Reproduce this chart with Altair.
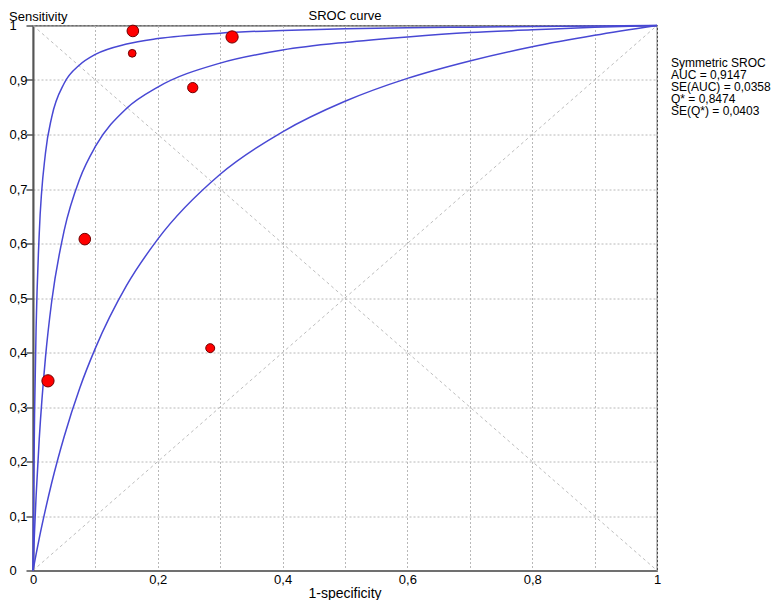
import altair as alt
import pandas as pd

# ---- data ----
fpr = [0, 0.001, 0.0025, 0.005, 0.01, 0.02, 0.03, 0.05, 0.075, 0.1,
       0.15, 0.2, 0.3, 0.4, 0.5, 0.6, 0.7, 0.8, 0.9, 1]
inner_tpr = [0, 0.138, 0.286, 0.446, 0.618, 0.766, 0.832, 0.894, 0.928, 0.947,
             0.966, 0.976, 0.986, 0.991, 0.994, 0.996, 0.997, 0.998, 0.999, 1]
middle_tpr = [0, 0.031, 0.073, 0.137, 0.241, 0.391, 0.494, 0.624, 0.719, 0.778,
              0.848, 0.887, 0.931, 0.955, 0.969, 0.979, 0.987, 0.992, 0.997, 1]
outer_tpr = [0, 0.006, 0.015, 0.030, 0.059, 0.112, 0.161, 0.246, 0.335, 0.408,
             0.523, 0.608, 0.727, 0.805, 0.861, 0.903, 0.935, 0.961, 0.982, 1]

study_fpr = [0.160, 0.159, 0.319, 0.256, 0.083, 0.284, 0.024]
study_tpr = [0.990, 0.949, 0.979, 0.886, 0.608, 0.408, 0.348]
study_weight = [135, 60, 150, 105, 135, 80, 150]

diag_x = [0, 1]
diag_up = [0, 1]
diag_down = [1, 0]

tick_values = [0, 0.1, 0.2, 0.3, 0.4, 0.5, 0.6, 0.7, 0.8, 0.9, 1]

chart_title = "SROC curve"
stats_lines = ["Symmetric SROC", "AUC = 0,9147", "SE(AUC) = 0,0358",
               "Q* = 0,8474", "SE(Q*) = 0,0403"]

# ---- tables ----
curves = pd.concat([
    pd.DataFrame({"x": fpr, "y": inner_tpr, "curve": "inner"}),
    pd.DataFrame({"x": fpr, "y": middle_tpr, "curve": "middle"}),
    pd.DataFrame({"x": fpr, "y": outer_tpr, "curve": "outer"}),
])
diags = pd.concat([
    pd.DataFrame({"x": diag_x, "y": diag_up, "d": "up"}),
    pd.DataFrame({"x": diag_x, "y": diag_down, "d": "down"}),
])
studies = pd.DataFrame({"x": study_fpr, "y": study_tpr, "w": study_weight})

FONT = "Liberation Sans"
lab = "replace(format(datum.value, '.1~f'), '.', ',')"

x_enc = alt.X(
    "x:Q",
    scale=alt.Scale(domain=[0, 1], nice=False, zero=False),
    axis=alt.Axis(
        values=tick_values, title="1-specificity", ticks=False,
        labelExpr="round(datum.value*10) % 2 == 0 ? " + lab + " : ''",
        grid=True, gridColor="#b8b8b8", gridDash=[2, 2], gridWidth=1,
        domainColor="#707070", domainWidth=2,
        labelFont=FONT, labelFontSize=13, labelColor="#000", labelPadding=3,
        labelFlush=False, labelOverlap=False,
        titleFont=FONT, titleFontSize=14, titleFontWeight="normal", titleColor="#000",
        titleX=311.5, titleY=26.5, titleAlign="center", titleBaseline="alphabetic",
    ),
)
y_enc = alt.Y(
    "y:Q",
    scale=alt.Scale(domain=[0, 1], nice=False, zero=False),
    axis=alt.Axis(
        values=tick_values, title="Sensitivity",
        labelExpr=lab,
        ticks=True, tickSize=7, tickColor="#555", tickWidth=1.5,
        grid=True, gridColor="#b8b8b8", gridDash=[2, 2], gridWidth=1,
        domainColor="#555", domainWidth=2,
        labelFont=FONT, labelFontSize=13, labelColor="#000", labelPadding=17,
        labelAlign="left", labelBaseline="middle",
        labelFlush=False, labelOverlap=False,
        titleFont=FONT, titleFontSize=13, titleFontWeight="normal", titleColor="#000",
        titleAngle=0, titleX=-24.5, titleY=-5.5, titleAlign="left",
        titleBaseline="alphabetic",
    ),
)

diag_layer = alt.Chart(diags).mark_line(
    color="#bdbdbd", strokeWidth=1, strokeDash=[3, 3]
).encode(x=x_enc, y=y_enc, detail="d:N")

curve_layer = alt.Chart(curves).mark_line(
    color="#4848d4", strokeWidth=1.5, interpolate="monotone"
).encode(x=x_enc, y=y_enc, detail="curve:N")

point_layer = alt.Chart(studies).mark_point(
    filled=True, fill="#ff0000", stroke="#700000", strokeWidth=1, opacity=1
).encode(x=x_enc, y=y_enc, size=alt.Size("w:Q", scale=None, legend=None))

one_row = pd.DataFrame({"k": [0]})

stats_layer = alt.Chart(one_row).mark_text(
    text=stats_lines, align="left", baseline="alphabetic", fontSize=12,
    lineHeight=12, font=FONT, color="#000"
).encode(x=alt.value(638), y=alt.value(41.5))

title_layer = alt.Chart(one_row).mark_text(
    text=chart_title, align="center", baseline="alphabetic", fontSize=13,
    font=FONT, color="#000"
).encode(x=alt.value(312), y=alt.value(-5.5))

chart = alt.layer(diag_layer, curve_layer, point_layer, stats_layer, title_layer).properties(
    width=624, height=545,
    padding={"left": 25, "top": 17.5, "right": 117, "bottom": 29.5},
    autosize=alt.AutoSizeParams(type="none"),
).configure_view(stroke="#3a3a3a", strokeWidth=1.2)

chart.save("out.html", embed_options={"renderer": "svg", "actions": False})
